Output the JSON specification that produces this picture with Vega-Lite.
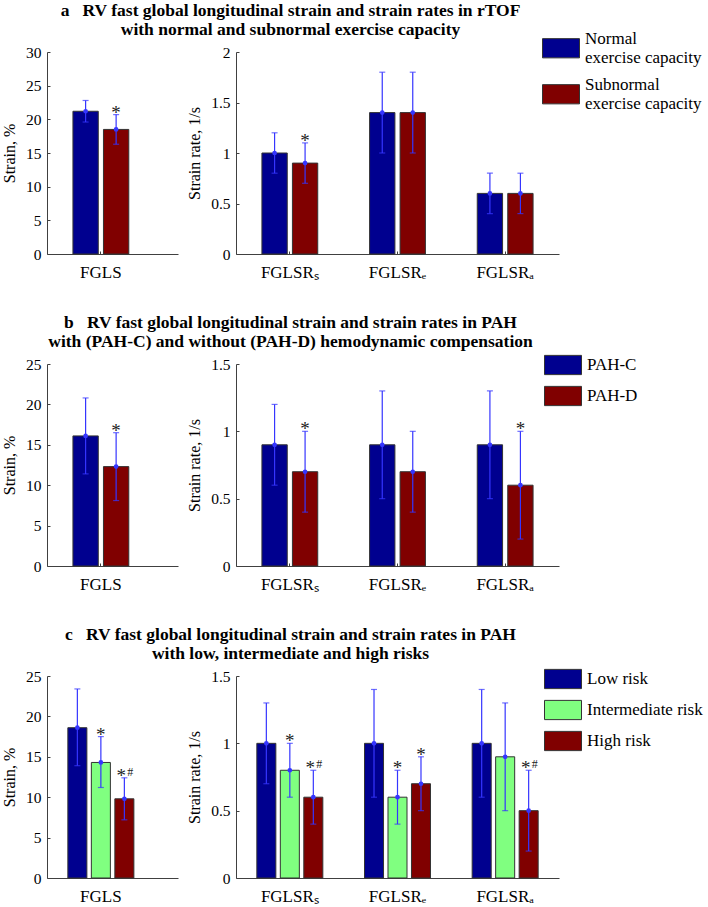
{
  "$schema": "https://vega.github.io/schema/vega-lite/v6.json",
  "padding": {"left": 1, "top": 1, "right": 2, "bottom": 1},
  "config": {
    "font": "Liberation Serif",
    "view": {"stroke": null},
    "axis": {"grid": false, "domainColor": "#404040", "tickColor": "#404040", "labelColor": "#000", "titleColor": "#000", "labelFont": "Liberation Serif", "titleFont": "Liberation Serif", "titleFontWeight": "normal", "titleFontSize": 16, "labelFontSize": 15.5, "tickSize": -3},
    "axisY": {"labelPadding": 9, "titlePadding": 8, "format": "~g"},
    "axisX": {"labelAngle": 0, "labelFontSize": 17, "labelPadding": 13, "title": null},
    "legend": {"orient": "none", "title": null, "symbolType": "M-1,-0.52H1V0.52H-1Z", "symbolSize": 1369, "symbolStrokeColor": "#333", "symbolStrokeWidth": 1, "symbolOpacity": 1, "labelFont": "Liberation Serif", "labelFontSize": 17, "labelColor": "#000", "labelOffset": 5, "labelLimit": 300},
    "title": {"font": "Liberation Serif", "fontSize": 17.5, "fontWeight": "bold", "color": "#000", "lineHeight": 19.5, "anchor": "middle", "frame": "group", "dx": 178, "offset": 6.5}
  },
  "datasets": {
    "a": [
      {"m": "FGLS", "g": "Normal exercise capacity", "v": 21.2, "lo": 19.6, "hi": 22.8, "sig": ""},
      {"m": "FGLS", "g": "Subnormal exercise capacity", "v": 18.5, "lo": 16.3, "hi": 20.7, "sig": "*"},
      {"m": "FGLSRₛ", "g": "Normal exercise capacity", "v": 1.0, "lo": 0.8, "hi": 1.2, "sig": ""},
      {"m": "FGLSRₛ", "g": "Subnormal exercise capacity", "v": 0.9, "lo": 0.7, "hi": 1.1, "sig": "*"},
      {"m": "FGLSRₑ", "g": "Normal exercise capacity", "v": 1.4, "lo": 1.0, "hi": 1.8, "sig": ""},
      {"m": "FGLSRₑ", "g": "Subnormal exercise capacity", "v": 1.4, "lo": 1.0, "hi": 1.8, "sig": ""},
      {"m": "FGLSRₐ", "g": "Normal exercise capacity", "v": 0.6, "lo": 0.4, "hi": 0.8, "sig": ""},
      {"m": "FGLSRₐ", "g": "Subnormal exercise capacity", "v": 0.6, "lo": 0.4, "hi": 0.8, "sig": ""}
    ],
    "b": [
      {"m": "FGLS", "g": "PAH-C", "v": 16.1, "lo": 11.4, "hi": 20.8, "sig": ""},
      {"m": "FGLS", "g": "PAH-D", "v": 12.3, "lo": 8.1, "hi": 16.5, "sig": "*"},
      {"m": "FGLSRₛ", "g": "PAH-C", "v": 0.9, "lo": 0.6, "hi": 1.2, "sig": ""},
      {"m": "FGLSRₛ", "g": "PAH-D", "v": 0.7, "lo": 0.4, "hi": 1.0, "sig": "*"},
      {"m": "FGLSRₑ", "g": "PAH-C", "v": 0.9, "lo": 0.5, "hi": 1.3, "sig": ""},
      {"m": "FGLSRₑ", "g": "PAH-D", "v": 0.7, "lo": 0.4, "hi": 1.0, "sig": ""},
      {"m": "FGLSRₐ", "g": "PAH-C", "v": 0.9, "lo": 0.5, "hi": 1.3, "sig": ""},
      {"m": "FGLSRₐ", "g": "PAH-D", "v": 0.6, "lo": 0.2, "hi": 1.0, "sig": "*"}
    ],
    "c": [
      {"m": "FGLS", "g": "Low risk", "v": 18.6, "lo": 13.9, "hi": 23.4, "sig": ""},
      {"m": "FGLS", "g": "Intermediate risk", "v": 14.3, "lo": 11.2, "hi": 17.5, "sig": "*"},
      {"m": "FGLS", "g": "High risk", "v": 9.8, "lo": 7.2, "hi": 12.4, "sig": "*#"},
      {"m": "FGLSRₛ", "g": "Low risk", "v": 1.0, "lo": 0.7, "hi": 1.3, "sig": ""},
      {"m": "FGLSRₛ", "g": "Intermediate risk", "v": 0.8, "lo": 0.6, "hi": 1.0, "sig": "*"},
      {"m": "FGLSRₛ", "g": "High risk", "v": 0.6, "lo": 0.4, "hi": 0.8, "sig": "*#"},
      {"m": "FGLSRₑ", "g": "Low risk", "v": 1.0, "lo": 0.6, "hi": 1.4, "sig": ""},
      {"m": "FGLSRₑ", "g": "Intermediate risk", "v": 0.6, "lo": 0.4, "hi": 0.8, "sig": "*"},
      {"m": "FGLSRₑ", "g": "High risk", "v": 0.7, "lo": 0.5, "hi": 0.9, "sig": "*"},
      {"m": "FGLSRₐ", "g": "Low risk", "v": 1.0, "lo": 0.6, "hi": 1.4, "sig": ""},
      {"m": "FGLSRₐ", "g": "Intermediate risk", "v": 0.9, "lo": 0.5, "hi": 1.3, "sig": ""},
      {"m": "FGLSRₐ", "g": "High risk", "v": 0.5, "lo": 0.2, "hi": 0.8, "sig": "*#"}
    ]
  },
  "bounds": "flush",
  "columns": 2,
  "spacing": {"row": 110, "column": 58},
  "resolve": {"scale": {"x": "independent", "y": "independent", "xOffset": "independent", "color": "independent"}, "legend": {"color": "independent"}},
  "concat": [
    {
      "width": 131, "height": 202,
      "title": {"text": ["a\u00a0\u00a0\u00a0RV fast global longitudinal strain and strain rates in rTOF", "with normal and subnormal exercise capacity"]},
      "data": {"name": "a"},
      "transform": [{"filter": "datum.m == 'FGLS'"}],
      "encoding": {
        "x": {"field": "m", "type": "nominal", "scale": {"paddingInner": 0, "paddingOuter": 0.108, "align": 0}},
        "xOffset": {"field": "g", "type": "nominal", "scale": {"domain": ["Normal exercise capacity", "Subnormal exercise capacity"], "paddingInner": 0.17, "paddingOuter": 0.85}}
      },
      "layer": [
        {"mark": {"type": "bar", "stroke": "#333", "strokeWidth": 1}, "encoding": {"y": {"field": "v", "type": "quantitative", "title": "Strain, %", "scale": {"domain": [0, 30], "nice": false}, "axis": {"values": [0, 5, 10, 15, 20, 25, 30]}}, "color": {"field": "g", "type": "nominal", "scale": {"domain": ["Normal exercise capacity", "Subnormal exercise capacity"], "range": ["#00008f", "#800000"]}, "legend": null}}},
        {"mark": {"type": "rule", "color": "#3535ff", "strokeWidth": 1.2}, "encoding": {"y": {"field": "lo", "type": "quantitative", "title": "Strain, %", "axis": {"values": [0, 5, 10, 15, 20, 25, 30]}}, "y2": {"field": "hi"}}},
        {"mark": {"type": "tick", "color": "#3535ff", "size": 6, "thickness": 1.2}, "encoding": {"y": {"field": "lo", "type": "quantitative", "title": "Strain, %", "axis": {"values": [0, 5, 10, 15, 20, 25, 30]}}}},
        {"mark": {"type": "tick", "color": "#3535ff", "size": 6, "thickness": 1.2}, "encoding": {"y": {"field": "hi", "type": "quantitative", "title": "Strain, %", "axis": {"values": [0, 5, 10, 15, 20, 25, 30]}}}},
        {"mark": {"type": "point", "filled": true, "color": "#3535ff", "size": 22, "opacity": 1}, "encoding": {"y": {"field": "v", "type": "quantitative", "title": "Strain, %", "axis": {"values": [0, 5, 10, 15, 20, 25, 30]}}}},
        {"transform": [{"filter": "datum.sig == '*'"}], "mark": {"type": "text", "text": "*", "fontSize": 19, "baseline": "alphabetic", "dy": 4, "color": "#222"}, "encoding": {"y": {"field": "hi", "type": "quantitative", "title": "Strain, %", "axis": {"values": [0, 5, 10, 15, 20, 25, 30]}}}}
      ]
    },
    {
      "width": 323, "height": 202,
      "data": {"name": "a"},
      "transform": [{"filter": "datum.m != 'FGLS'"}],
      "encoding": {
        "x": {"field": "m", "type": "nominal", "sort": ["FGLSRₛ", "FGLSRₑ", "FGLSRₐ"], "scale": {"paddingInner": 0, "paddingOuter": 0}},
        "xOffset": {"field": "g", "type": "nominal", "scale": {"domain": ["Normal exercise capacity", "Subnormal exercise capacity"], "paddingInner": 0.17, "paddingOuter": 0.85}}
      },
      "layer": [
        {"mark": {"type": "bar", "stroke": "#333", "strokeWidth": 1}, "encoding": {"y": {"field": "v", "type": "quantitative", "title": "Strain rate, 1/s", "scale": {"domain": [0, 2], "nice": false}, "axis": {"values": [0, 0.5, 1, 1.5, 2]}}, "color": {"field": "g", "type": "nominal", "scale": {"domain": ["Normal exercise capacity", "Subnormal exercise capacity"], "range": ["#00008f", "#800000"]}, "legend": {"legendX": 306, "legendY": -32, "rowPadding": 0, "symbolType": "M-1,-0.02H1V1.02H-1Z", "encode": {"labels": {"update": {"lineHeight": {"value": 19}}}}, "labelExpr": "datum.label == 'Normal exercise capacity' ? ['Normal', 'exercise capacity'] : ['Subnormal', 'exercise capacity']"}}}},
        {"mark": {"type": "rule", "color": "#3535ff", "strokeWidth": 1.2}, "encoding": {"y": {"field": "lo", "type": "quantitative", "title": "Strain rate, 1/s", "axis": {"values": [0, 0.5, 1, 1.5, 2]}}, "y2": {"field": "hi"}}},
        {"mark": {"type": "tick", "color": "#3535ff", "size": 6, "thickness": 1.2}, "encoding": {"y": {"field": "lo", "type": "quantitative", "title": "Strain rate, 1/s", "axis": {"values": [0, 0.5, 1, 1.5, 2]}}}},
        {"mark": {"type": "tick", "color": "#3535ff", "size": 6, "thickness": 1.2}, "encoding": {"y": {"field": "hi", "type": "quantitative", "title": "Strain rate, 1/s", "axis": {"values": [0, 0.5, 1, 1.5, 2]}}}},
        {"mark": {"type": "point", "filled": true, "color": "#3535ff", "size": 22, "opacity": 1}, "encoding": {"y": {"field": "v", "type": "quantitative", "title": "Strain rate, 1/s", "axis": {"values": [0, 0.5, 1, 1.5, 2]}}}},
        {"transform": [{"filter": "datum.sig == '*'"}], "mark": {"type": "text", "text": "*", "fontSize": 19, "baseline": "alphabetic", "dy": 4, "color": "#222"}, "encoding": {"y": {"field": "hi", "type": "quantitative", "title": "Strain rate, 1/s", "axis": {"values": [0, 0.5, 1, 1.5, 2]}}}}
      ]
    },
    {
      "width": 131, "height": 202,
      "title": {"text": ["b\u00a0\u00a0\u00a0RV fast global longitudinal strain and strain rates in PAH", "with (PAH-C) and without (PAH-D) hemodynamic compensation"]},
      "data": {"name": "b"},
      "transform": [{"filter": "datum.m == 'FGLS'"}],
      "encoding": {
        "x": {"field": "m", "type": "nominal", "scale": {"paddingInner": 0, "paddingOuter": 0.108, "align": 0}},
        "xOffset": {"field": "g", "type": "nominal", "scale": {"domain": ["PAH-C", "PAH-D"], "paddingInner": 0.17, "paddingOuter": 0.85}}
      },
      "layer": [
        {"mark": {"type": "bar", "stroke": "#333", "strokeWidth": 1}, "encoding": {"y": {"field": "v", "type": "quantitative", "title": "Strain, %", "scale": {"domain": [0, 25], "nice": false}, "axis": {"values": [0, 5, 10, 15, 20, 25]}}, "color": {"field": "g", "type": "nominal", "scale": {"domain": ["PAH-C", "PAH-D"], "range": ["#00008f", "#800000"]}, "legend": null}}},
        {"mark": {"type": "rule", "color": "#3535ff", "strokeWidth": 1.2}, "encoding": {"y": {"field": "lo", "type": "quantitative", "title": "Strain, %", "axis": {"values": [0, 5, 10, 15, 20, 25]}}, "y2": {"field": "hi"}}},
        {"mark": {"type": "tick", "color": "#3535ff", "size": 6, "thickness": 1.2}, "encoding": {"y": {"field": "lo", "type": "quantitative", "title": "Strain, %", "axis": {"values": [0, 5, 10, 15, 20, 25]}}}},
        {"mark": {"type": "tick", "color": "#3535ff", "size": 6, "thickness": 1.2}, "encoding": {"y": {"field": "hi", "type": "quantitative", "title": "Strain, %", "axis": {"values": [0, 5, 10, 15, 20, 25]}}}},
        {"mark": {"type": "point", "filled": true, "color": "#3535ff", "size": 22, "opacity": 1}, "encoding": {"y": {"field": "v", "type": "quantitative", "title": "Strain, %", "axis": {"values": [0, 5, 10, 15, 20, 25]}}}},
        {"transform": [{"filter": "datum.sig == '*'"}], "mark": {"type": "text", "text": "*", "fontSize": 19, "baseline": "alphabetic", "dy": 4, "color": "#222"}, "encoding": {"y": {"field": "hi", "type": "quantitative", "title": "Strain, %", "axis": {"values": [0, 5, 10, 15, 20, 25]}}}}
      ]
    },
    {
      "width": 323, "height": 202,
      "data": {"name": "b"},
      "transform": [{"filter": "datum.m != 'FGLS'"}],
      "encoding": {
        "x": {"field": "m", "type": "nominal", "sort": ["FGLSRₛ", "FGLSRₑ", "FGLSRₐ"], "scale": {"paddingInner": 0, "paddingOuter": 0}},
        "xOffset": {"field": "g", "type": "nominal", "scale": {"domain": ["PAH-C", "PAH-D"], "paddingInner": 0.17, "paddingOuter": 0.85}}
      },
      "layer": [
        {"mark": {"type": "bar", "stroke": "#333", "strokeWidth": 1}, "encoding": {"y": {"field": "v", "type": "quantitative", "title": "Strain rate, 1/s", "scale": {"domain": [0, 1.5], "nice": false}, "axis": {"values": [0, 0.5, 1, 1.5]}}, "color": {"field": "g", "type": "nominal", "scale": {"domain": ["PAH-C", "PAH-D"], "range": ["#00008f", "#800000"]}, "legend": {"legendX": 308, "legendY": -18, "rowPadding": 0}}}},
        {"mark": {"type": "rule", "color": "#3535ff", "strokeWidth": 1.2}, "encoding": {"y": {"field": "lo", "type": "quantitative", "title": "Strain rate, 1/s", "axis": {"values": [0, 0.5, 1, 1.5]}}, "y2": {"field": "hi"}}},
        {"mark": {"type": "tick", "color": "#3535ff", "size": 6, "thickness": 1.2}, "encoding": {"y": {"field": "lo", "type": "quantitative", "title": "Strain rate, 1/s", "axis": {"values": [0, 0.5, 1, 1.5]}}}},
        {"mark": {"type": "tick", "color": "#3535ff", "size": 6, "thickness": 1.2}, "encoding": {"y": {"field": "hi", "type": "quantitative", "title": "Strain rate, 1/s", "axis": {"values": [0, 0.5, 1, 1.5]}}}},
        {"mark": {"type": "point", "filled": true, "color": "#3535ff", "size": 22, "opacity": 1}, "encoding": {"y": {"field": "v", "type": "quantitative", "title": "Strain rate, 1/s", "axis": {"values": [0, 0.5, 1, 1.5]}}}},
        {"transform": [{"filter": "datum.sig == '*'"}], "mark": {"type": "text", "text": "*", "fontSize": 19, "baseline": "alphabetic", "dy": 4, "color": "#222"}, "encoding": {"y": {"field": "hi", "type": "quantitative", "title": "Strain rate, 1/s", "axis": {"values": [0, 0.5, 1, 1.5]}}}}
      ]
    },
    {
      "width": 131, "height": 202,
      "title": {"text": ["c\u00a0\u00a0\u00a0RV fast global longitudinal strain and strain rates in PAH", "with low, intermediate and high risks"]},
      "data": {"name": "c"},
      "transform": [{"filter": "datum.m == 'FGLS'"}],
      "encoding": {
        "x": {"field": "m", "type": "nominal", "scale": {"paddingInner": 0, "paddingOuter": 0.108, "align": 0}},
        "xOffset": {"field": "g", "type": "nominal", "scale": {"domain": ["Low risk", "Intermediate risk", "High risk"], "paddingInner": 0.19, "paddingOuter": 0.887}}
      },
      "layer": [
        {"mark": {"type": "bar", "stroke": "#333", "strokeWidth": 1}, "encoding": {"y": {"field": "v", "type": "quantitative", "title": "Strain, %", "scale": {"domain": [0, 25], "nice": false}, "axis": {"values": [0, 5, 10, 15, 20, 25]}}, "color": {"field": "g", "type": "nominal", "scale": {"domain": ["Low risk", "Intermediate risk", "High risk"], "range": ["#00008f", "#80ff80", "#800000"]}, "legend": null}}},
        {"mark": {"type": "rule", "color": "#3535ff", "strokeWidth": 1.2}, "encoding": {"y": {"field": "lo", "type": "quantitative", "title": "Strain, %", "axis": {"values": [0, 5, 10, 15, 20, 25]}}, "y2": {"field": "hi"}}},
        {"mark": {"type": "tick", "color": "#3535ff", "size": 6, "thickness": 1.2}, "encoding": {"y": {"field": "lo", "type": "quantitative", "title": "Strain, %", "axis": {"values": [0, 5, 10, 15, 20, 25]}}}},
        {"mark": {"type": "tick", "color": "#3535ff", "size": 6, "thickness": 1.2}, "encoding": {"y": {"field": "hi", "type": "quantitative", "title": "Strain, %", "axis": {"values": [0, 5, 10, 15, 20, 25]}}}},
        {"mark": {"type": "point", "filled": true, "color": "#3535ff", "size": 22, "opacity": 1}, "encoding": {"y": {"field": "v", "type": "quantitative", "title": "Strain, %", "axis": {"values": [0, 5, 10, 15, 20, 25]}}}},
        {"transform": [{"filter": "datum.sig == '*'"}], "mark": {"type": "text", "text": "*", "fontSize": 19, "baseline": "alphabetic", "dy": 4, "color": "#222"}, "encoding": {"y": {"field": "hi", "type": "quantitative", "title": "Strain, %", "axis": {"values": [0, 5, 10, 15, 20, 25]}}}},
        {"transform": [{"filter": "datum.sig == '*#'"}], "mark": {"type": "text", "text": "*", "fontSize": 19, "baseline": "alphabetic", "dy": 4, "dx": -3, "color": "#222"}, "encoding": {"y": {"field": "hi", "type": "quantitative", "title": "Strain, %", "axis": {"values": [0, 5, 10, 15, 20, 25]}}}},
        {"transform": [{"filter": "datum.sig == '*#'"}], "mark": {"type": "text", "text": "#", "fontSize": 12, "baseline": "alphabetic", "dy": -2, "dx": 6, "color": "#222"}, "encoding": {"y": {"field": "hi", "type": "quantitative", "title": "Strain, %", "axis": {"values": [0, 5, 10, 15, 20, 25]}}}}
      ]
    },
    {
      "width": 323, "height": 202,
      "data": {"name": "c"},
      "transform": [{"filter": "datum.m != 'FGLS'"}],
      "encoding": {
        "x": {"field": "m", "type": "nominal", "sort": ["FGLSRₛ", "FGLSRₑ", "FGLSRₐ"], "scale": {"paddingInner": 0, "paddingOuter": 0}},
        "xOffset": {"field": "g", "type": "nominal", "scale": {"domain": ["Low risk", "Intermediate risk", "High risk"], "paddingInner": 0.19, "paddingOuter": 0.887}}
      },
      "layer": [
        {"mark": {"type": "bar", "stroke": "#333", "strokeWidth": 1}, "encoding": {"y": {"field": "v", "type": "quantitative", "title": "Strain rate, 1/s", "scale": {"domain": [0, 1.5], "nice": false}, "axis": {"values": [0, 0.5, 1, 1.5]}}, "color": {"field": "g", "type": "nominal", "scale": {"domain": ["Low risk", "Intermediate risk", "High risk"], "range": ["#00008f", "#80ff80", "#800000"]}, "legend": {"legendX": 308, "legendY": -16, "rowPadding": 0}}}},
        {"mark": {"type": "rule", "color": "#3535ff", "strokeWidth": 1.2}, "encoding": {"y": {"field": "lo", "type": "quantitative", "title": "Strain rate, 1/s", "axis": {"values": [0, 0.5, 1, 1.5]}}, "y2": {"field": "hi"}}},
        {"mark": {"type": "tick", "color": "#3535ff", "size": 6, "thickness": 1.2}, "encoding": {"y": {"field": "lo", "type": "quantitative", "title": "Strain rate, 1/s", "axis": {"values": [0, 0.5, 1, 1.5]}}}},
        {"mark": {"type": "tick", "color": "#3535ff", "size": 6, "thickness": 1.2}, "encoding": {"y": {"field": "hi", "type": "quantitative", "title": "Strain rate, 1/s", "axis": {"values": [0, 0.5, 1, 1.5]}}}},
        {"mark": {"type": "point", "filled": true, "color": "#3535ff", "size": 22, "opacity": 1}, "encoding": {"y": {"field": "v", "type": "quantitative", "title": "Strain rate, 1/s", "axis": {"values": [0, 0.5, 1, 1.5]}}}},
        {"transform": [{"filter": "datum.sig == '*'"}], "mark": {"type": "text", "text": "*", "fontSize": 19, "baseline": "alphabetic", "dy": 4, "color": "#222"}, "encoding": {"y": {"field": "hi", "type": "quantitative", "title": "Strain rate, 1/s", "axis": {"values": [0, 0.5, 1, 1.5]}}}},
        {"transform": [{"filter": "datum.sig == '*#'"}], "mark": {"type": "text", "text": "*", "fontSize": 19, "baseline": "alphabetic", "dy": 4, "dx": -3, "color": "#222"}, "encoding": {"y": {"field": "hi", "type": "quantitative", "title": "Strain rate, 1/s", "axis": {"values": [0, 0.5, 1, 1.5]}}}},
        {"transform": [{"filter": "datum.sig == '*#'"}], "mark": {"type": "text", "text": "#", "fontSize": 12, "baseline": "alphabetic", "dy": -2, "dx": 6, "color": "#222"}, "encoding": {"y": {"field": "hi", "type": "quantitative", "title": "Strain rate, 1/s", "axis": {"values": [0, 0.5, 1, 1.5]}}}}
      ]
    }
  ]
}
